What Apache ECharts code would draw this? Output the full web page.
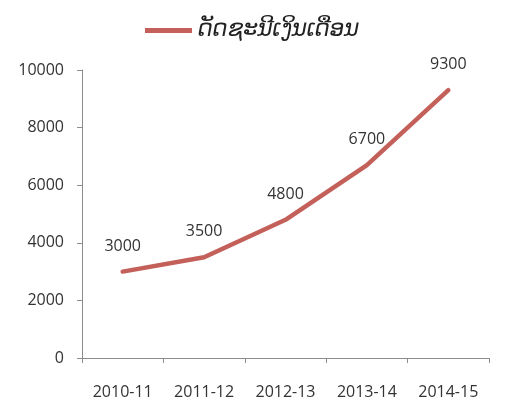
<!DOCTYPE html>
<html>
<head>
<meta charset="utf-8">
<script src="https://cdn.jsdelivr.net/npm/echarts@6/dist/echarts.min.js"></script>
<style>
  html, body { margin: 0; padding: 0; background: #fff; }
  #chart { width: 505px; height: 408px; }
</style>
</head>
<body>
<div id="chart"></div>
<script>
// 数据
const seriesName = 'ດັດຊະນີເງິນເດືອນ'
const years = ['2010-11', '2011-12', '2012-13', '2013-14', '2014-15']
const salaryIndex = [3000, 3500, 4800, 6700, 9300]
const yTicks = [0, 2000, 4000, 6000, 8000, 10000]

const lineColor = '#c4605a'
const axisColor = '#8c8c8c'
const textFont = '"Open Sans", "Liberation Sans", sans-serif'

const chart = echarts.init(document.getElementById('chart'))
chart.setOption({
  animation: false,
  legend: {
    top: 14,
    left: 140,
    icon: 'rect',
    itemWidth: 47,
    itemHeight: 5,
    itemGap: 10,
    itemStyle: { color: lineColor, opacity: 1 },
    lineStyle: { opacity: 0 },
    textStyle: {
      fontFamily: '"DejaVu Sans", sans-serif',
      fontStyle: 'italic',
      fontSize: 23,
      color: '#222',
      padding: [0, 0, 0, 1],
    },
    data: [seriesName],
  },
  grid: {
    left: 82,
    right: 16,
    top: 70,
    bottom: 50,
  },
  xAxis: {
    type: 'category',
    data: years,
    boundaryGap: true,
    axisLine: { lineStyle: { color: axisColor, width: 1 } },
    axisTick: { show: true, length: 5, lineStyle: { color: axisColor } },
    axisLabel: {
      margin: 26,
      fontSize: 16,
      fontFamily: textFont,
      color: '#333',
    },
  },
  yAxis: {
    type: 'value',
    min: yTicks[0],
    max: yTicks[yTicks.length - 1],
    interval: 2000,
    axisLine: { show: true, lineStyle: { color: axisColor, width: 1 } },
    axisTick: { show: true, length: 5, lineStyle: { color: axisColor } },
    splitLine: { show: false },
    axisLabel: {
      margin: 18,
      fontSize: 16,
      fontFamily: textFont,
      color: '#333',
      formatter: (v) => String(v),
    },
  },
  series: [
    {
      name: seriesName,
      type: 'line',
      data: salaryIndex,
      symbol: 'circle',
      symbolSize: 1,
      showSymbol: true,
      lineStyle: { color: lineColor, width: 4.5, cap: 'round', join: 'round' },
      itemStyle: { color: 'rgba(0,0,0,0)', borderWidth: 0 },
      label: {
        show: true,
        position: 'top',
        distance: 17,
        fontSize: 16,
        fontFamily: textFont,
        color: '#333',
      },
    },
  ],
})
</script>
</body>
</html>
